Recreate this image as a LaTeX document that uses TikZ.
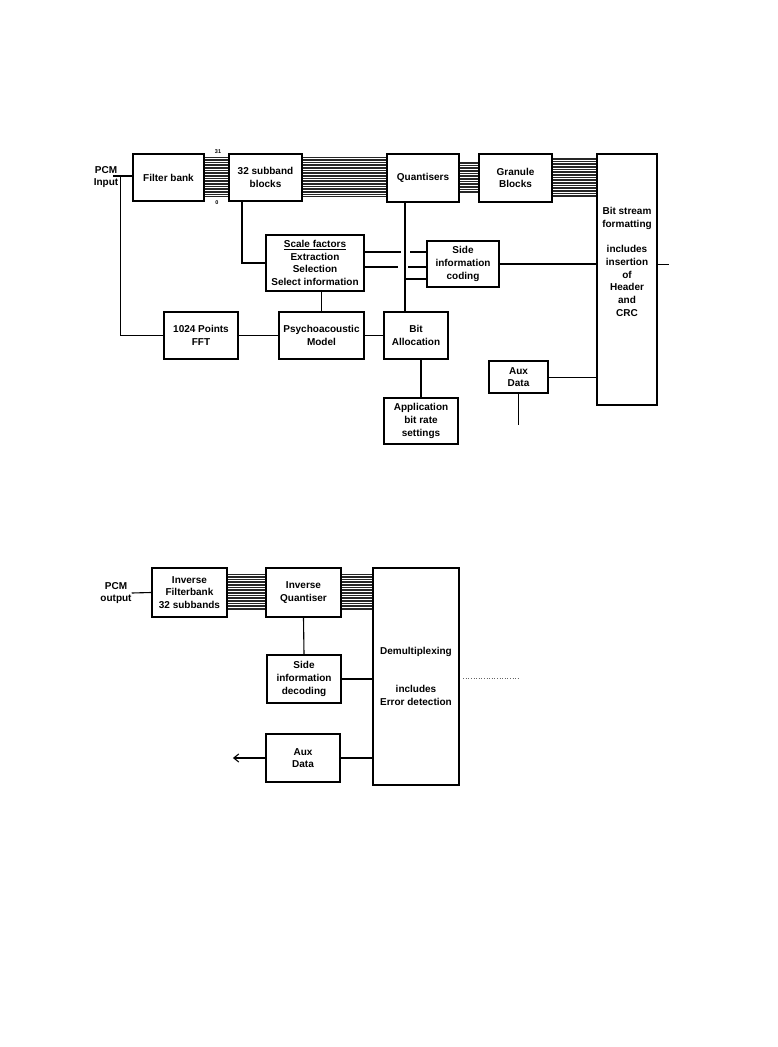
\documentclass[tikz,border=0pt]{standalone}
\usepackage{fontspec}
\setmainfont{Liberation Sans}
\usetikzlibrary{calc,arrows.meta}
\begin{document}
\begin{tikzpicture}[x=1pt,y=-1pt,
  blk/.style={draw, line width=2.2pt, inner sep=0pt, align=center,
    font=\fontsize{10}{12.7}\selectfont\bfseries},
  txt/.style={inner sep=0pt, align=center,
    font=\fontsize{10}{12.7}\selectfont\bfseries},
  tiny/.style={inner sep=0pt, font=\fontsize{5.5}{6}\selectfont\bfseries},
  con/.style={line width=1.1pt},
  bus/.style={line width=0.6pt, black!85}]
\useasboundingbox (0,0) rectangle (777,1047);

% ---------- encoder ----------
\node[blk, minimum width=71pt, minimum height=47pt] (fb) at (168.5,177.5) {Filter bank};
\node[blk, minimum width=73pt, minimum height=47pt] (sb) at (265.5,177.5) {32 subband\\blocks};
\node[blk, minimum width=72pt, minimum height=48pt] (q) at (423,178) {Quantisers};
\node[blk, minimum width=73pt, minimum height=48pt] (gb) at (515.5,178) {Granule\\Blocks};
\node[blk, minimum width=60pt, minimum height=251pt] (bsf) at (627,279.5) {};
\node[txt] (bsftxt) at (627,262) {Bit stream\\formatting\\[12.7pt]includes\\insertion\\of\\Header\\and\\CRC};
\node[blk, minimum width=98pt, minimum height=56pt] (sf) at (315,263) {\underline{Scale factors}\\Extraction\\Selection\\Select information};
\node[blk, minimum width=72pt, minimum height=46pt] (sic) at (463,264) {Side\\information\\coding};
\node[blk, minimum width=74pt, minimum height=47pt] (fft) at (201,335.5) {1024 Points\\FFT};
\node[blk, minimum width=85pt, minimum height=47pt] (pm) at (321.5,335.5) {Psychoacoustic\\Model};
\node[blk, minimum width=64pt, minimum height=47pt] (ba) at (416,335.5) {Bit\\Allocation};
\node[blk, minimum width=74pt, minimum height=46pt] (app) at (421,421) {Application\\bit rate\\settings};
\node[blk, minimum width=59pt, minimum height=32pt] (aux) at (518.5,377) {Aux\\Data};

\node[txt] (pcmin) at (106,177) {PCM\\Input};
\node[tiny] (l31) at (218,152) {31};
\node[tiny] (l0) at (217,203) {0};

% buses
\foreach \d in {-20,-18.4,...,20} {
  \coordinate (s) at ($(fb.east)+(0,\d)$);
  \draw[bus] (s) -- (s -| sb.west);
  \coordinate (s) at ($(sb.east)+(0,\d)$);
  \draw[bus] (s) -- (s -| q.west);
  \coordinate (s) at ($(gb.east)+(0,\d)$);
  \draw[bus] (s) -- (s -| bsf.west);
}
\foreach \d in {-16,-14.4,...,16} {
  \coordinate (s) at ($(q.east)+(0,\d)$);
  \draw[bus] (s) -- (s -| gb.west);
}

% connectors
\coordinate (pst) at ($(pcmin.east)+(-5,-1)$);
\draw[con] (pst) -- (pst -| fb.west);
\coordinate (pj) at ($(pcmin.east)+(2.5,-1)$);
\draw[con] (pj) |- (fft.west);
\coordinate (sbv) at ($(sb.south)+(-23.5,0)$);
\draw[con] (sbv) |- (sf.west);
\coordinate (qv) at ($(q.south)+(-18,0)$);
\draw[con] (qv) -- (qv |- ba.north);
\coordinate (j) at ($(sic.west)+(0,15)$);
\draw[con] (qv |- j) -- (j);
\coordinate (u1) at ($(sf.east)+(0,-11)$);
\draw[con] (u1) -- ($(u1 -| qv)+(-4,0)$);
\draw[con] ($(u1 -| qv)+(5,0)$) -- (u1 -| sic.west);
\coordinate (u2) at ($(sf.east)+(0,4)$);
\draw[con] (u2) -- ($(u2 -| qv)+(-7,0)$);
\draw[con] ($(u2 -| qv)+(3,0)$) -- (u2 -| sic.west);
\draw[con] (pm.north) -- (pm.north |- sf.south);
\draw[con] (fft.east) -- (pm.west);
\draw[con] (pm.east) -- (ba.west);
\draw[con] (app.north) -- (app.north |- ba.south);
\draw[con] (sic.east) -- (sic.east -| bsf.west);
\coordinate (bo) at (bsf.east |- sic.east);
\coordinate (bsfend) at ($(bo)+(11,0)$);
\draw[con, line width=0.7pt] (bo) -- (bsfend);
\draw[con, line width=0.8pt] (aux.east) -- (aux.east -| bsf.west);
\coordinate (auxend) at ($(aux.south)+(0,31)$);
\draw[con, line width=0.8pt] (aux.south) -- (auxend);

% ---------- decoder ----------
\node[blk, minimum width=75pt, minimum height=49pt] (ifb) at (189.5,592.5) {Inverse\\Filterbank\\32 subbands};
\node[blk, minimum width=75pt, minimum height=49pt] (iq) at (303.5,592.5) {Inverse\\Quantiser};
\node[blk, minimum width=86pt, minimum height=217pt] (dmx) at (416,676.5) {Demultiplexing\\[25.4pt]includes\\Error detection};
\node[blk, minimum width=74pt, minimum height=48pt] (sid) at (304,679) {Side\\information\\decoding};
\node[blk, minimum width=74pt, minimum height=48pt] (aux2) at (303,758) {Aux\\Data};
\node[txt] (pcmout) at (116,593) {PCM\\output};

\foreach \d in {-18,-16.4,...,18} {
  \coordinate (s) at ($(ifb.east)+(0,\d)$);
  \draw[bus] (s) -- (s -| iq.west);
  \coordinate (s) at ($(iq.east)+(0,\d)$);
  \draw[bus] (s) -- (s -| dmx.west);
}

\draw[con] (pcmout.east) -- (ifb.west);
\draw[con] (iq.south) -- (sid.north);
\draw[con] (sid.east) -- (sid.east -| dmx.west);
\draw[con] (aux2.east) -- (aux2.east -| dmx.west);
\coordinate (arrend) at ($(aux2.west)+(-32,0)$);
\draw[con, -{Straight Barb[length=5pt,width=8pt]}] (aux2.west) -- (arrend);
\coordinate (d1) at ($(dmx.east)+(3,1.5)$);
\coordinate (d2) at ($(dmx.east)+(59,1.5)$);
\draw[dotted, line width=0.6pt, black!60] (d1) -- (d2);
\end{tikzpicture}
\end{document}
